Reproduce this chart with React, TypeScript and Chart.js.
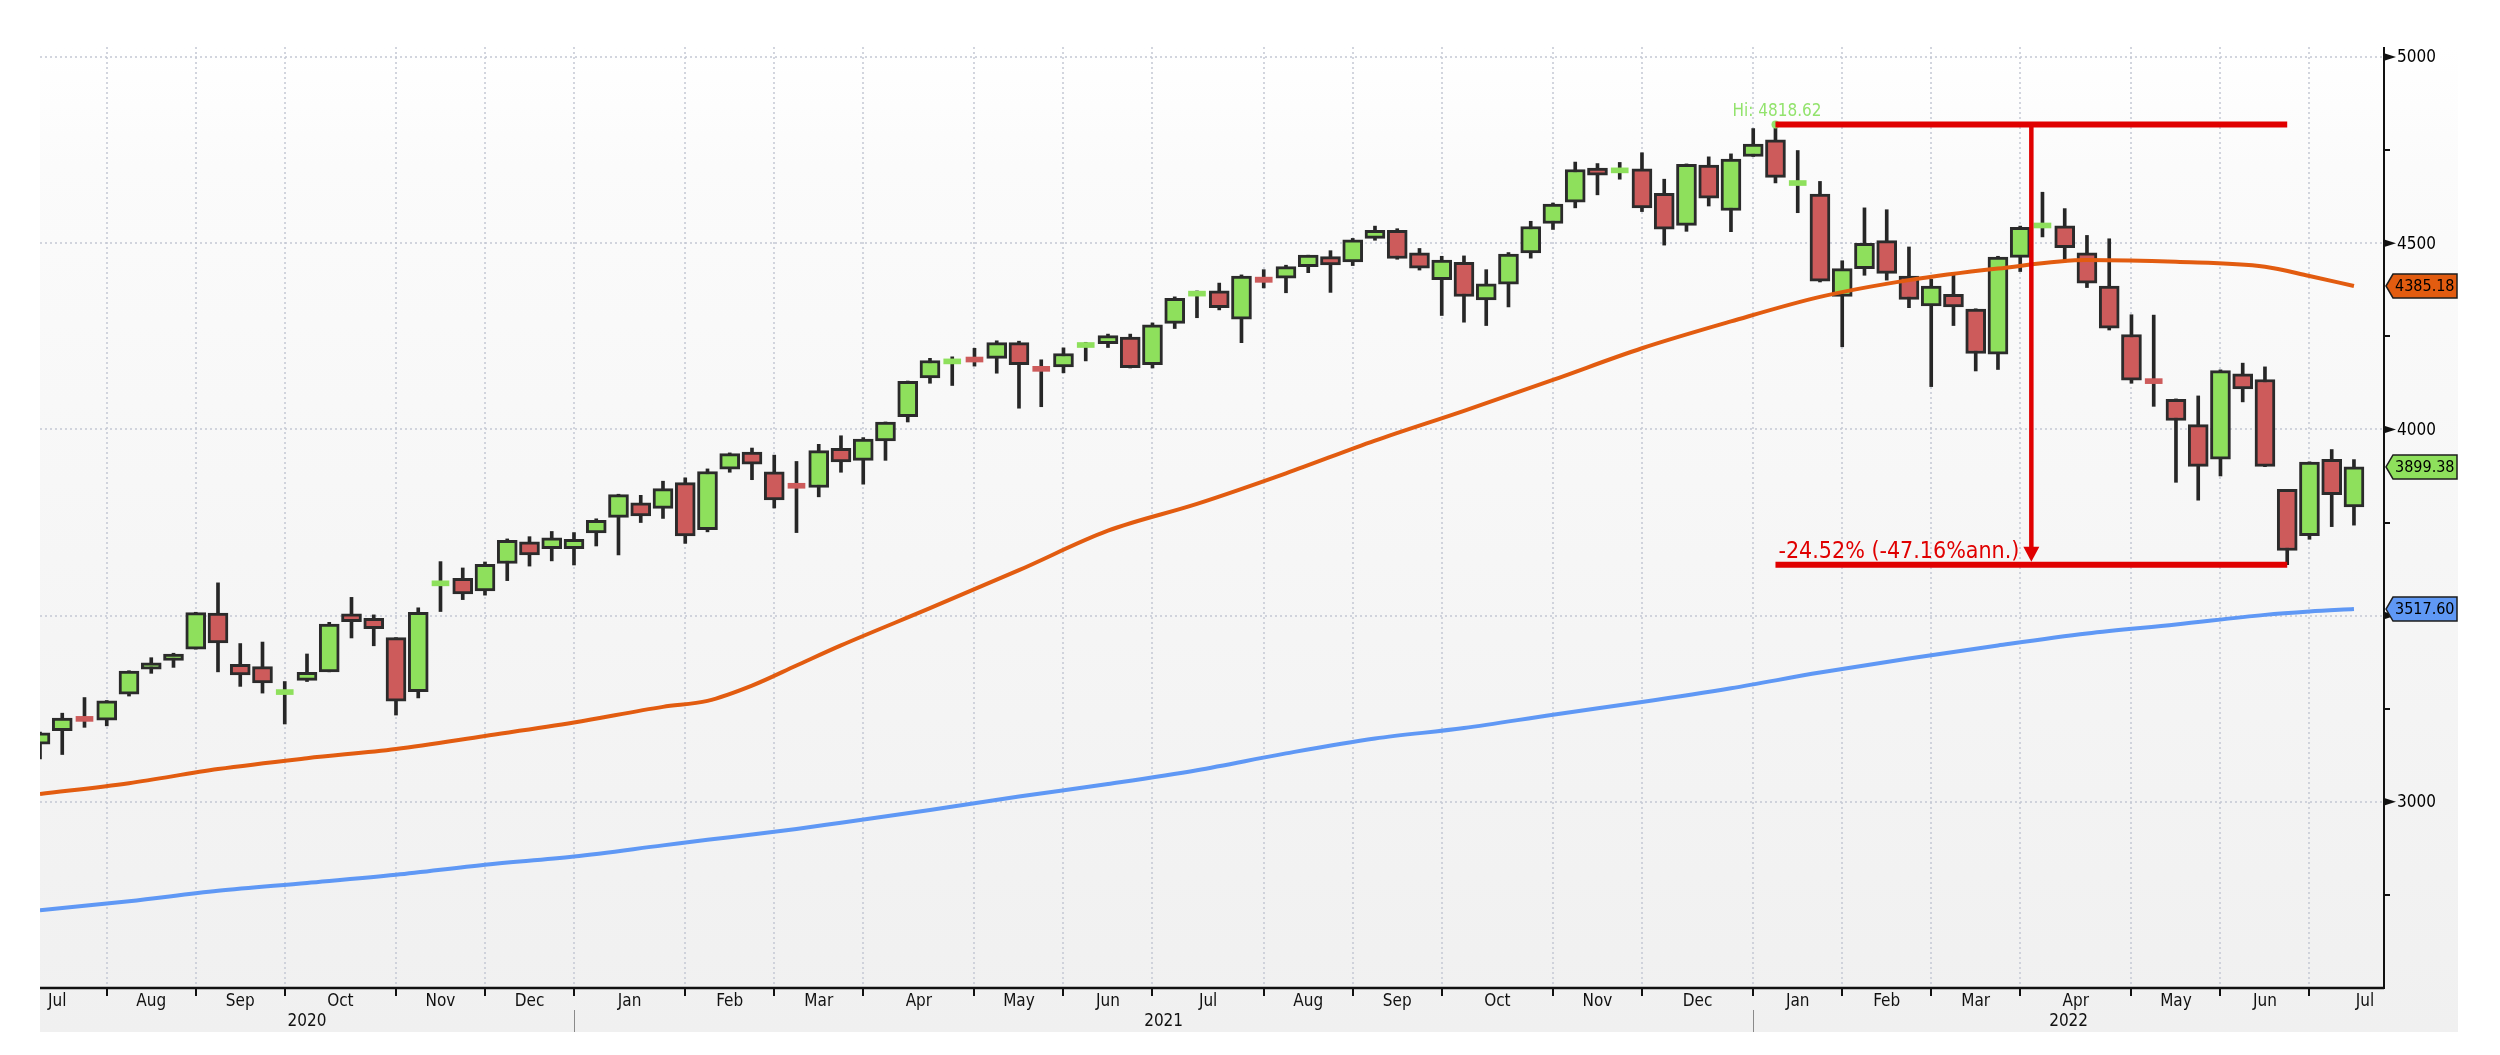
import { useEffect, useRef } from "react"
import { Chart, registerables } from "chart.js"

Chart.register(...registerables)

// S&P 500, weekly bars dated by their Friday, first bar = 10 Jul 2020
const firstFriday = Date.UTC(2020, 6, 10)

const opens = [
  3155, 3191, 3220, 3219, 3289, 3356, 3380, 3410, 3507, 3369, 3363, 3288, 3326, 3349, 3505, 3493,
  3441, 3296, 3580, 3600, 3566, 3640, 3698, 3680, 3680, 3722, 3764, 3803, 3788, 3857, 3731, 3893,
  3939, 3886, 3845, 3844, 3949, 3917, 3969, 4034, 4138, 4176, 4186, 4191, 4233, 4169, 4168, 4220,
  4230, 4248, 4174, 4285, 4358, 4372, 4296, 4409, 4406, 4437, 4464, 4450, 4513, 4535, 4474, 4402,
  4449, 4348, 4390, 4474, 4553, 4610, 4702, 4689, 4700, 4634, 4548, 4710, 4588, 4733, 4778, 4655,
  4632, 4357, 4432, 4507, 4412, 4332, 4363, 4323, 4202, 4462, 4541, 4547, 4474, 4385, 4255, 4130,
  4081, 4013, 3920, 4149, 4134, 3839, 3715, 3920, 3792,
]
const highs = [
  3187, 3238, 3280, 3272, 3352, 3387, 3399, 3509, 3588, 3425, 3429, 3323, 3397, 3482, 3549, 3502,
  3441, 3521, 3645, 3628, 3644, 3706, 3712, 3726, 3723, 3760, 3826, 3823, 3861, 3870, 3894, 3937,
  3950, 3931, 3914, 3960, 3983, 3978, 4020, 4130, 4191, 4195, 4218, 4238, 4237, 4187, 4219, 4234,
  4256, 4256, 4286, 4356, 4372, 4393, 4415, 4429, 4441, 4468, 4480, 4513, 4546, 4539, 4486, 4465,
  4466, 4429, 4475, 4559, 4608, 4718, 4714, 4717, 4743, 4672, 4713, 4732, 4740, 4808, 4818.62, 4749,
  4666, 4453, 4595, 4590, 4490, 4403, 4416, 4324, 4465, 4546, 4637, 4593, 4521, 4512, 4308, 4307,
  4082, 4090, 4160, 4178, 4168, 3839, 3913, 3946, 3919,
]
const lows = [
  3115, 3127, 3200, 3204, 3284, 3345, 3361, 3410, 3349, 3310, 3292, 3209, 3323, 3349, 3440, 3419,
  3233, 3279, 3511, 3543, 3555, 3594, 3633, 3647, 3636, 3687, 3663, 3750, 3761, 3694, 3725, 3885,
  3865, 3789, 3723, 3819, 3885, 3853, 3917, 4020, 4124, 4118, 4170, 4151, 4057, 4061, 4152, 4184,
  4220, 4165, 4165, 4271, 4300, 4321, 4233, 4380, 4367, 4421, 4368, 4440, 4508, 4457, 4428, 4306,
  4288, 4279, 4329, 4460, 4537, 4595, 4630, 4672, 4585, 4495, 4532, 4600, 4531, 4733, 4662, 4582,
  4396, 4222, 4414, 4401, 4327, 4115, 4279, 4157, 4161, 4424, 4517, 4450, 4381, 4267, 4124, 4062,
  3858, 3810, 3875, 4074, 3900, 3636.87, 3705, 3739, 3743,
]
const closes = [
  3185, 3225, 3216, 3271, 3351, 3373, 3397, 3508, 3427, 3341, 3319, 3298, 3348, 3477, 3484, 3465,
  3270, 3509, 3585, 3558, 3638, 3702, 3663, 3709, 3705, 3756, 3825, 3768, 3841, 3714, 3887, 3935,
  3907, 3811, 3842, 3943, 3913, 3974, 4020, 4129, 4185, 4180, 4181, 4233, 4174, 4156, 4204, 4230,
  4252, 4166, 4281, 4352, 4370, 4327, 4412, 4395, 4437, 4468, 4442, 4509, 4535, 4459, 4433, 4455,
  4357, 4391, 4471, 4545, 4605, 4698, 4683, 4698, 4595, 4538, 4712, 4621, 4726, 4766, 4677, 4663,
  4398, 4432, 4500, 4419, 4349, 4385, 4329, 4204, 4463, 4543, 4546, 4488, 4393, 4272, 4132, 4123,
  4024, 3901, 4158, 4109, 3901, 3675, 3912, 3825, 3899.38,
]

// moving averages at these bar numbers
const maWeeks = [0, 4, 8, 12, 16, 20, 24, 28, 30, 32, 34, 36, 40, 44, 48, 52, 56, 60, 64, 68, 72, 76, 80, 84, 88, 92, 96, 100, 102, 104]
const ma50 = [
  3021, 3050, 3088, 3117, 3142, 3177, 3213, 3255, 3271, 3312, 3366, 3420, 3520, 3622, 3728, 3800,
  3882, 3970, 4050, 4133, 4218, 4290, 4356, 4401, 4432, 4455, 4450, 4437, 4412, 4385.18,
]
const ma200 = [
  2709, 2733, 2761, 2782, 2804, 2831, 2853, 2883, 2898, 2912, 2927, 2944, 2978, 3014, 3048, 3085,
  3130, 3170, 3198, 3234, 3268, 3305, 3347, 3385, 3420, 3452, 3476, 3502, 3511, 3517.6,
]

const yMajorTicks = [3000, 3500, 4000, 4500, 5000]
const yMinorTicks = [2750, 3250, 3750, 4250, 4750]
const monthNames = ["Jan", "Feb", "Mar", "Apr", "May", "Jun", "Jul", "Aug", "Sep", "Oct", "Nov", "Dec"]
const drawdownText = "-24.52% (-47.16%ann.)"

const GREEN = "#8ee05c"
const RED = "#cd5b5b"
const EDGE = "#2b2b2b"
const ORANGE = "#e25c10"
const BLUE = "#5f98f5"
const ANNOT = "#e00000"
const HI_GREEN = "#92e36c"
const FONT = "'DejaVu Sans Condensed', 'DejaVu Sans', sans-serif"

const weekDate = (i: number) => new Date(firstFriday + i * 7 * 86400000)

const nWeeks = closes.length
// a month tick sits on the last bar before a new month starts
const monthTicks: number[] = []
for (let i = -8; i < nWeeks + 8; i++) {
  if (weekDate(i).getUTCMonth() !== weekDate(i + 1).getUTCMonth()) monthTicks.push(i)
}

const hiIdx = highs.indexOf(Math.max(...highs))
const hiValue = highs[hiIdx]
const loValue = Math.min(...lows.slice(hiIdx))
const loIdx = lows.indexOf(loValue, hiIdx)

const isDoji = (i: number) => Math.abs(closes[i] - opens[i]) < 15
const candleColor = (c: any) => {
  const r = c.raw
  if (!r) return GREEN
  return r.y[1] >= r.y[0] ? GREEN : RED
}

const decorPlugin = {
  id: "decor",
  beforeDraw(chart: any) {
    const { ctx, chartArea } = chart
    ctx.save()
    ctx.fillStyle = "#ffffff"
    ctx.fillRect(0, 0, chart.width, chart.height)
    const bottomEdge = chartArea.bottom + 44
    const g = ctx.createLinearGradient(0, chartArea.top, 0, bottomEdge)
    g.addColorStop(0, "#ffffff")
    g.addColorStop(0.12, "#fbfbfb")
    g.addColorStop(1, "#f0f0f0")
    ctx.fillStyle = g
    ctx.fillRect(chartArea.left, chartArea.top, chartArea.right + 74 - chartArea.left, bottomEdge - chartArea.top)
    ctx.restore()
  },
  beforeDatasetsDraw(chart: any) {
    const { ctx, chartArea } = chart
    const xS = chart.scales.x
    const yS = chart.scales.y
    ctx.save()
    ctx.strokeStyle = "#c3c7d3"
    ctx.lineWidth = 1.5
    ctx.setLineDash([2, 3])
    ctx.beginPath()
    for (const v of yMajorTicks) {
      const y = Math.round(yS.getPixelForValue(v))
      ctx.moveTo(chartArea.left, y)
      ctx.lineTo(chartArea.right, y)
    }
    for (const t of monthTicks) {
      if (t < 0 || t > xS.max) continue
      const x = Math.round(xS.getPixelForValue(t))
      ctx.moveTo(x, chartArea.top)
      ctx.lineTo(x, chartArea.bottom)
    }
    ctx.stroke()
    ctx.restore()
  },
  afterDatasetsDraw(chart: any) {
    const { ctx } = chart
    const xS = chart.scales.x
    const yS = chart.scales.y
    const xHi = xS.getPixelForValue(hiIdx)
    const xLo = xS.getPixelForValue(loIdx)
    const yHi = yS.getPixelForValue(hiValue)
    const yLo = yS.getPixelForValue(loValue)
    const xMid = xS.getPixelForValue((hiIdx + loIdx) / 2)
    ctx.save()

    // marker on the high
    ctx.fillStyle = HI_GREEN
    ctx.beginPath()
    ctx.arc(xHi, yHi, 4, 0, Math.PI * 2)
    ctx.fill()

    ctx.strokeStyle = ANNOT
    ctx.lineWidth = 6
    ctx.beginPath()
    ctx.moveTo(xHi, yHi)
    ctx.lineTo(xLo, yHi)
    ctx.moveTo(xHi, yLo)
    ctx.lineTo(xLo, yLo)
    ctx.stroke()
    ctx.lineWidth = 4.5
    ctx.beginPath()
    ctx.moveTo(xMid, yHi)
    ctx.lineTo(xMid, yLo - 14)
    ctx.stroke()
    ctx.fillStyle = ANNOT
    ctx.beginPath()
    ctx.moveTo(xMid - 8, yLo - 18)
    ctx.lineTo(xMid + 8, yLo - 18)
    ctx.lineTo(xMid, yLo - 3)
    ctx.closePath()
    ctx.fill()
    ctx.font = `23px ${FONT}`
    ctx.textAlign = "left"
    ctx.textBaseline = "alphabetic"
    ctx.fillText(drawdownText, xHi + 3, yLo - 7)

    ctx.fillStyle = HI_GREEN
    ctx.font = `17px ${FONT}`
    ctx.textBaseline = "middle"
    ctx.fillText(`Hi: ${hiValue.toFixed(2)}`, xHi - 43, yHi - 13)
    ctx.restore()
  },
  afterDraw(chart: any) {
    const { ctx, chartArea } = chart
    const { left, right, top, bottom } = chartArea
    const xS = chart.scales.x
    const yS = chart.scales.y
    ctx.save()
    ctx.strokeStyle = "#111"
    ctx.fillStyle = "#111"

    // x axis
    ctx.lineWidth = 2.5
    ctx.beginPath()
    ctx.moveTo(left, bottom)
    ctx.lineTo(right, bottom)
    ctx.stroke()
    ctx.lineWidth = 2
    ctx.beginPath()
    for (const t of monthTicks) {
      if (t < 0 || t > xS.max) continue
      const x = Math.round(xS.getPixelForValue(t))
      ctx.moveTo(x, bottom)
      ctx.lineTo(x, bottom + 8)
    }
    ctx.stroke()

    ctx.font = `17px ${FONT}`
    ctx.textAlign = "center"
    ctx.textBaseline = "middle"
    for (let k = 0; k < monthTicks.length - 1; k++) {
      const a = monthTicks[k]
      const b = monthTicks[k + 1]
      if (b < 0 || a > xS.max) continue
      const name = monthNames[weekDate(a + 1).getUTCMonth()]
      const w = ctx.measureText(name).width
      let cx = (xS.getPixelForValue(a) + xS.getPixelForValue(b)) / 2
      cx = Math.max(cx, left + 8 + w / 2)
      cx = Math.min(cx, right - 4 - w / 2)
      ctx.fillText(name, cx, bottom + 14)
    }

    // years
    const janTicks = monthTicks.filter((t) => t >= 0 && t <= xS.max && weekDate(t + 1).getUTCMonth() === 0)
    const bounds = [left, ...janTicks.map((t) => xS.getPixelForValue(t)), right]
    const year = weekDate(0).getUTCFullYear()
    for (let k = 0; k < bounds.length - 1; k++) {
      ctx.fillText(String(year + k), (bounds[k] + bounds[k + 1]) / 2, bottom + 34)
    }
    ctx.strokeStyle = "#8a8a8a"
    ctx.lineWidth = 1
    ctx.beginPath()
    for (const t of janTicks) {
      const x = Math.round(xS.getPixelForValue(t)) + 0.5
      ctx.moveTo(x, bottom + 22)
      ctx.lineTo(x, bottom + 44)
    }
    ctx.stroke()

    // y axis on the right
    ctx.strokeStyle = "#111"
    ctx.lineWidth = 2
    ctx.beginPath()
    ctx.moveTo(right, top)
    ctx.lineTo(right, bottom + 1)
    ctx.stroke()
    ctx.beginPath()
    for (const v of yMinorTicks) {
      const y = Math.round(yS.getPixelForValue(v))
      ctx.moveTo(right, y)
      ctx.lineTo(right + 6, y)
    }
    ctx.stroke()
    ctx.textAlign = "left"
    for (const v of yMajorTicks) {
      const y = yS.getPixelForValue(v)
      ctx.fillStyle = "#111"
      ctx.beginPath()
      ctx.moveTo(right + 1, y - 3.5)
      ctx.lineTo(right + 12, y)
      ctx.lineTo(right + 1, y + 3.5)
      ctx.closePath()
      ctx.fill()
      ctx.fillStyle = "#000"
      ctx.fillText(String(v), right + 13, y + 1)
    }

    // last value tags
    ctx.font = `16px ${FONT}`
    const tag = (value: number, fill: string) => {
      const y = yS.getPixelForValue(value)
      const h = 12
      ctx.beginPath()
      ctx.moveTo(right + 2, y)
      ctx.lineTo(right + 9, y - h)
      ctx.lineTo(right + 73, y - h)
      ctx.lineTo(right + 73, y + h)
      ctx.lineTo(right + 9, y + h)
      ctx.closePath()
      ctx.fillStyle = fill
      ctx.fill()
      ctx.strokeStyle = "#1e1e1e"
      ctx.lineWidth = 1.5
      ctx.stroke()
      ctx.fillStyle = "#000"
      ctx.fillText(value.toFixed(2), right + 11, y + 1)
    }
    tag(ma50[ma50.length - 1], ORANGE)
    tag(closes[nWeeks - 1], GREEN)
    tag(ma200[ma200.length - 1], BLUE)
    ctx.restore()
  },
}

export default function App() {
  const canvasRef = useRef<HTMLCanvasElement>(null)
  const chartInstance = useRef<Chart | null>(null)

  useEffect(() => {
    if (!canvasRef.current) return
    if (chartInstance.current) chartInstance.current.destroy()

    const wicks = closes.map((_, i) => ({ x: i, y: [lows[i], highs[i]] }))
    const bodies = closes.map((c, i) => ({ x: i, y: [opens[i], c] })).filter((_, i) => !isDoji(i))
    const dojis = closes.map((c, i) => ({ x: i, y: [opens[i], c] })).filter((_, i) => isDoji(i))

    chartInstance.current = new Chart(canvasRef.current, {
      type: "bar",
      data: {
        datasets: [
          {
            type: "line",
            label: "MA 50",
            data: ma50.map((v, k) => ({ x: maWeeks[k], y: v })),
            borderColor: ORANGE,
            borderWidth: 4,
            pointRadius: 0,
            cubicInterpolationMode: "monotone",
            order: 0,
          },
          {
            type: "line",
            label: "MA 200",
            data: ma200.map((v, k) => ({ x: maWeeks[k], y: v })),
            borderColor: BLUE,
            borderWidth: 4,
            pointRadius: 0,
            cubicInterpolationMode: "monotone",
            order: 0,
          },
          {
            label: "bodies",
            data: bodies,
            backgroundColor: candleColor,
            borderColor: EDGE,
            borderWidth: 3,
            borderSkipped: false,
            barThickness: 20,
            grouped: false,
            clip: 0,
            order: 1,
          },
          {
            label: "doji",
            data: dojis,
            backgroundColor: candleColor,
            borderWidth: 0,
            barThickness: 17,
            minBarLength: 5,
            grouped: false,
            clip: 0,
            order: 1,
          },
          {
            label: "wicks",
            data: wicks,
            backgroundColor: "#262626",
            borderWidth: 0,
            barThickness: 3,
            grouped: false,
            clip: 0,
            order: 2,
          },
        ] as any,
      },
      options: {
        animation: false,
        responsive: true,
        maintainAspectRatio: false,
        events: [],
        layout: { padding: { left: 40, top: 47, right: 116, bottom: 67 } },
        scales: {
          x: { type: "linear", display: false, min: 0, max: 105.35, offset: false },
          y: { type: "linear", display: false, min: 2500, max: 5027 },
        },
        plugins: {
          legend: { display: false },
          tooltip: { enabled: false },
        },
      } as any,
      plugins: [decorPlugin],
    })

    return () => {
      if (chartInstance.current) {
        chartInstance.current.destroy()
        chartInstance.current = null
      }
    }
  }, [])

  return (
    <div style={{ position: "absolute", left: 0, top: 0, width: 2500, height: 1055 }}>
      <canvas ref={canvasRef} />
    </div>
  )
}
